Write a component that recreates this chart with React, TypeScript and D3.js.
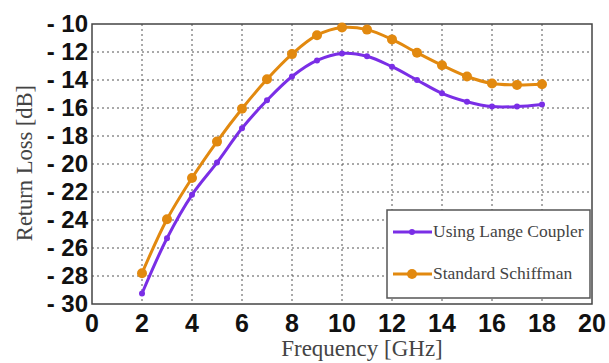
import * as d3 from "d3";
import React, { useRef, useEffect } from "react";

const mainWidth = 609;
const mainHeight = 363;
const margin = { top: 24, right: 17, bottom: 59, left: 92 };
const width = mainWidth - margin.left - margin.right;
const height = mainHeight - margin.top - margin.bottom;

const serif = "'Liberation Serif', 'Times New Roman', 'DejaVu Serif', serif";
const sans = "'Liberation Sans', Arial, sans-serif";

const freq = [2, 3, 4, 5, 6, 7, 8, 9, 10, 11, 12, 13, 14, 15, 16, 17, 18];
const lange = [-29.25, -25.3, -22.2, -19.9, -17.45, -15.45, -13.75, -12.6, -12.1, -12.3, -13.05, -14.0, -14.95, -15.55, -15.9, -15.9, -15.75];
const schiffman = [-27.8, -23.95, -21.0, -18.4, -16.05, -13.95, -12.15, -10.8, -10.25, -10.4, -11.1, -12.05, -12.95, -13.75, -14.25, -14.35, -14.3];

const xTicks = [0, 2, 4, 6, 8, 10, 12, 14, 16, 18, 20];
const yTicks = [-10, -12, -14, -16, -18, -20, -22, -24, -26, -28, -30];

const seriesNames = ["Using Lange Coupler", "Standard Schiffman"];
const seriesColors = ["#7a2ee6", "#e2890f"];

function ReturnLossChart() {
  const ref = useRef<SVGSVGElement>(null);

  useEffect(() => {
    const svg = d3.select(ref.current);
    svg.selectAll("*").remove();

    const x = d3.scaleLinear().domain([0, 20]).range([0, width]);
    const y = d3.scaleLinear().domain([-30, -10]).range([height, 0]);

    const g = svg.append("g").attr("transform", `translate(${margin.left},${margin.top})`);

    // grid
    g.append("g")
      .selectAll("line")
      .data(xTicks.slice(1, -1))
      .join("line")
      .attr("x1", (d) => x(d))
      .attr("x2", (d) => x(d))
      .attr("y1", 0)
      .attr("y2", height)
      .attr("stroke", "#555")
      .attr("stroke-width", 1)
      .attr("stroke-dasharray", "2,3");
    g.append("g")
      .selectAll("line")
      .data(yTicks.slice(1, -1))
      .join("line")
      .attr("x1", 0)
      .attr("x2", width)
      .attr("y1", (d) => y(d))
      .attr("y2", (d) => y(d))
      .attr("stroke", "#555")
      .attr("stroke-width", 1)
      .attr("stroke-dasharray", "2,3");

    // axes box
    g.append("rect")
      .attr("width", width)
      .attr("height", height)
      .attr("fill", "none")
      .attr("stroke", "#444")
      .attr("stroke-width", 1.5);

    // tick labels
    g.append("g")
      .selectAll("text")
      .data(xTicks)
      .join("text")
      .attr("x", (d) => x(d))
      .attr("y", height + 28)
      .attr("text-anchor", "middle")
      .style("font-family", sans)
      .attr("font-weight", "bold")
      .attr("font-size", 25)
      .attr("fill", "#111")
      .text((d) => d);
    g.append("g")
      .selectAll("text")
      .data(yTicks)
      .join("text")
      .attr("x", -4)
      .attr("y", (d) => y(d) + 8)
      .attr("text-anchor", "end")
      .style("font-family", sans)
      .attr("font-weight", "bold")
      .attr("font-size", 24)
      .attr("fill", "#111")
      .text((d) => `- ${Math.abs(d)}`);

    // axis titles
    g.append("text")
      .attr("x", 270)
      .attr("y", height + 52)
      .attr("text-anchor", "middle")
      .style("font-family", serif)
      .attr("font-size", 23)
      .attr("fill", "#444")
      .text("Frequency [GHz]");
    g.append("text")
      .attr("transform", `translate(${-60},${139}) rotate(-90)`)
      .attr("text-anchor", "middle")
      .style("font-family", serif)
      .attr("font-size", 22.5)
      .attr("fill", "#444")
      .text("Return Loss [dB]");

    // lines
    const line = d3
      .line<number>()
      .x((_, i) => x(freq[i]))
      .y((d) => y(d))
      .curve(d3.curveCatmullRom);

    [lange, schiffman].forEach((vals, k) => {
      g.append("path")
        .datum(vals)
        .attr("fill", "none")
        .attr("stroke", seriesColors[k])
        .attr("stroke-width", 3)
        .attr("d", line);
      g.append("g")
        .selectAll("circle")
        .data(vals)
        .join("circle")
        .attr("cx", (_, i) => x(freq[i]))
        .attr("cy", (d) => y(d))
        .attr("r", k === 0 ? 3 : 5)
        .attr("fill", seriesColors[k]);
    });

    // legend
    const lg = g.append("g").attr("transform", `translate(${295},${186})`);
    lg.append("rect")
      .attr("width", 203)
      .attr("height", 88)
      .attr("fill", "white")
      .attr("stroke", "#555")
      .attr("stroke-width", 1.5);
    seriesNames.forEach((name, k) => {
      const yy = 22 + k * 42;
      lg.append("line")
        .attr("x1", 6)
        .attr("x2", 45)
        .attr("y1", yy)
        .attr("y2", yy)
        .attr("stroke", seriesColors[k])
        .attr("stroke-width", 3);
      lg.append("circle")
        .attr("cx", 25)
        .attr("cy", yy)
        .attr("r", k === 0 ? 3 : 5)
        .attr("fill", seriesColors[k]);
      lg.append("text")
        .attr("x", 46)
        .attr("y", yy + 5)
        .style("font-family", serif)
        .attr("font-size", 17.5)
        .attr("fill", "#444")
        .text(name);
    });
  }, []);

  return <svg ref={ref} width={mainWidth} height={mainHeight} style={{ display: "block" }}></svg>;
}

export default function App() {
  return (
    <div style={{ position: "absolute", left: 0, top: 0, background: "white" }}>
      <ReturnLossChart />
    </div>
  );
}
